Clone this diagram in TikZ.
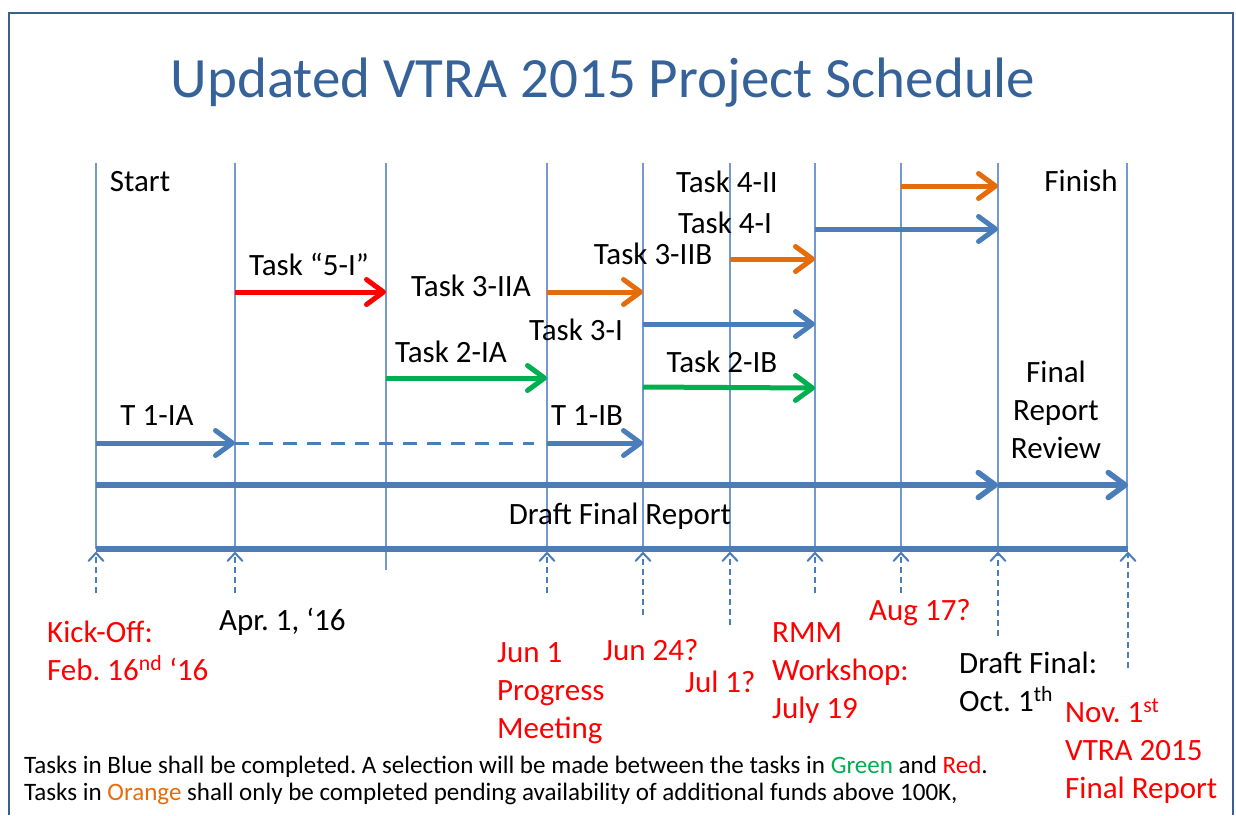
\documentclass[tikz,border=0pt]{standalone}
\usepackage{fontspec}
\setmainfont{Carlito}
\usetikzlibrary{arrows.meta}
\definecolor{titlec}{HTML}{36629A}
\definecolor{framec}{HTML}{3B5F8F}
\definecolor{bluec}{HTML}{4A7EBB}
\definecolor{vlc}{HTML}{7399D0}
\definecolor{orangec}{HTML}{E46C0A}
\definecolor{redc}{HTML}{FF0000}
\definecolor{greenc}{HTML}{00B050}
\tikzset{
  lbl/.style={inner sep=0pt, font=\fontsize{31}{38}\selectfont\frenchspacing, text=black},
  redlbl/.style={lbl, text=redc},
  legend/.style={inner sep=0pt, font=\fontsize{25.05}{27}\selectfont\frenchspacing, text=black, anchor=base west},
  vline/.style={line width=1.3pt, draw=vlc},
  bigarrow/.style={line width=5pt, -{Straight Barb[length=17pt,width=25pt,round]}},
  upmark/.style={line width=2pt, draw=bluec, dash pattern=on 6pt off 4pt, -{Straight Barb[length=8pt,width=15pt,round]}}
}
\begin{document}
\begin{tikzpicture}[x=1pt,y=-1pt]
\useasboundingbox (0,0) rectangle (1236,815);
% frame
\coordinate (fbl) at (9,815);
\coordinate (ftl) at (9,13);
\coordinate (ftr) at (1233,13);
\coordinate (fbr) at (1233,815);
\draw[framec, line width=2pt] (fbl) -- (ftl) -- (ftr) -- (fbr);
% title
\node[inner sep=0pt, anchor=base, font=\fontsize{57}{60}\selectfont, text=titlec] (title) at (603,97) {Updated VTRA 2015 Project Schedule};
% vertical lines
\coordinate (v1t) at (96,163);   \coordinate (v1b) at (96,549);
\coordinate (v2t) at (235,163);  \coordinate (v2b) at (235,549);
\coordinate (v3t) at (386,163);  \coordinate (v3b) at (386,570);
\coordinate (v4t) at (547,163);  \coordinate (v4b) at (547,549);
\coordinate (v5t) at (643,163);  \coordinate (v5b) at (643,549);
\coordinate (v6t) at (730,163);  \coordinate (v6b) at (730,549);
\coordinate (v7t) at (815,163);  \coordinate (v7b) at (815,549);
\coordinate (v8t) at (901,163);  \coordinate (v8b) at (901,549);
\coordinate (v9t) at (998,163);  \coordinate (v9b) at (998,549);
\coordinate (v10t) at (1127,163); \coordinate (v10b) at (1127,549);
\foreach \i in {1,...,10} {\draw[vline] (v\i t) -- (v\i b);}
% task arrows
\coordinate (a5s) at (235,292);  \coordinate (a5e) at (386,292);
\coordinate (a3as) at (547,292); \coordinate (a3ae) at (643,292);
\coordinate (a2as) at (386,378); \coordinate (a2ae) at (547,378);
\coordinate (a1as) at (96,443);  \coordinate (a1ae) at (235,443);
\coordinate (dls) at (235,443);  \coordinate (dle) at (534,443);
\coordinate (a1bs) at (547,443); \coordinate (a1be) at (643,443);
\coordinate (a3is) at (643,324); \coordinate (a3ie) at (815,324);
\coordinate (a2bs) at (643,387); \coordinate (a2be) at (815,388);
\coordinate (a3bs) at (730,259); \coordinate (a3be) at (815,259);
\coordinate (a4is) at (815,229); \coordinate (a4ie) at (998,229);
\coordinate (a4iis) at (901,186);\coordinate (a4iie) at (998,186);
\coordinate (dfs) at (96,485);   \coordinate (dfe) at (998,485);
\coordinate (rvs) at (998,485);  \coordinate (rve) at (1128,485);
\coordinate (tls) at (96,549);   \coordinate (tle) at (1128,549);
\draw[bigarrow, redc] (a5s) -- (a5e);
\draw[bigarrow, orangec] (a3as) -- (a3ae);
\draw[bigarrow, greenc] (a2as) -- (a2ae);
\draw[bigarrow, bluec] (a1as) -- (a1ae);
\draw[bluec, line width=3pt, dash pattern=on 14pt off 10pt] (dls) -- (dle);
\draw[bigarrow, bluec] (a1bs) -- (a1be);
\draw[bigarrow, bluec] (a3is) -- (a3ie);
\draw[bigarrow, greenc] (a2bs) -- (a2be);
\draw[bigarrow, orangec] (a3bs) -- (a3be);
\draw[bigarrow, bluec] (a4is) -- (a4ie);
\draw[bigarrow, orangec] (a4iis) -- (a4iie);
\draw[bigarrow, bluec, line width=5.5pt] (dfs) -- (dfe);
\draw[bigarrow, bluec, line width=5.5pt] (rvs) -- (rve);
\draw[bluec, line width=6pt] (tls) -- (tle);
% milestone marks
\coordinate (m1b) at (96,593);   \coordinate (m1t) at (96,552);
\coordinate (m2b) at (235,593);  \coordinate (m2t) at (235,552);
\coordinate (m3b) at (547,593);  \coordinate (m3t) at (547,552);
\coordinate (m4b) at (643,615);  \coordinate (m4t) at (643,552);
\coordinate (m5b) at (730,625);  \coordinate (m5t) at (730,552);
\coordinate (m6b) at (815,593);  \coordinate (m6t) at (815,552);
\coordinate (m7b) at (901,593);  \coordinate (m7t) at (901,552);
\coordinate (m8b) at (998,636);  \coordinate (m8t) at (998,552);
\coordinate (m9b) at (1128,668); \coordinate (m9t) at (1128,552);
\foreach \i in {1,...,9} {\draw[upmark] (m\i b) -- (m\i t);}
% task labels
\node[lbl, anchor=base] (start) at (140,191) {Start};
\node[lbl, anchor=base] (finish) at (1081,191) {Finish};
\node[lbl, anchor=base] (t4ii) at (727,192) {Task 4-II};
\node[lbl, anchor=base] (t4i) at (725,233) {Task 4-I};
\node[lbl, anchor=base] (t3iib) at (653,264) {Task 3-IIB};
\node[lbl, anchor=base] (t5i) at (309,275) {Task “5-I”};
\node[lbl, anchor=base] (t3iia) at (471,296) {Task 3-IIA};
\node[lbl, anchor=base] (t3i) at (576,340) {Task 3-I};
\node[lbl, anchor=base] (t2ia) at (451,362) {Task 2-IA};
\node[lbl, anchor=base] (t2ib) at (722,372) {Task 2-IB};
\node[lbl, anchor=base] (t1ia) at (157,425) {T 1-IA};
\node[lbl, anchor=base] (t1ib) at (587,425) {T 1-IB};
\node[lbl, anchor=base, align=center] (frr) at (1056,458) {Final\\Report\\Review};
\node[lbl, anchor=base] (dfr) at (620,524) {Draft Final Report};
% milestone labels (base anchor = last line)
\node[redlbl, anchor=base west, align=left] (kick) at (47,680) {Kick-Off:\\Feb. 16\textsuperscript{nd} ‘16};
\node[lbl, anchor=base west] (apr) at (219,630) {Apr. 1, ‘16};
\node[redlbl, anchor=base west, align=left] (jun1) at (497,738) {Jun 1\\Progress\\Meeting};
\node[redlbl, anchor=base west] (jun24) at (603,660) {Jun 24?};
\node[redlbl, anchor=base west] (jul1) at (685,692) {Jul 1?};
\node[redlbl, anchor=base west, align=left] (rmm) at (772,718) {RMM\\Workshop:\\July 19};
\node[redlbl, anchor=base west] (aug) at (869,620) {Aug 17?};
\node[lbl, anchor=base west, align=left] (draft) at (959,711) {Draft Final:\\Oct. 1\textsuperscript{th}};
\node[redlbl, anchor=base west, align=left] (nov) at (1065,798) {Nov. 1\textsuperscript{st}\\VTRA 2015\\Final Report};
% legend
\node[legend] (leg1) at (24,773) {Tasks in Blue shall be completed. A selection will be made between the tasks in \textcolor{greenc}{Green} and \textcolor{redc}{Red}.};
\node[legend] (leg2) at (24,800) {Tasks in \textcolor{orangec}{Orange} shall only be completed pending availability of additional funds above 100K,};
\end{tikzpicture}
\end{document}
